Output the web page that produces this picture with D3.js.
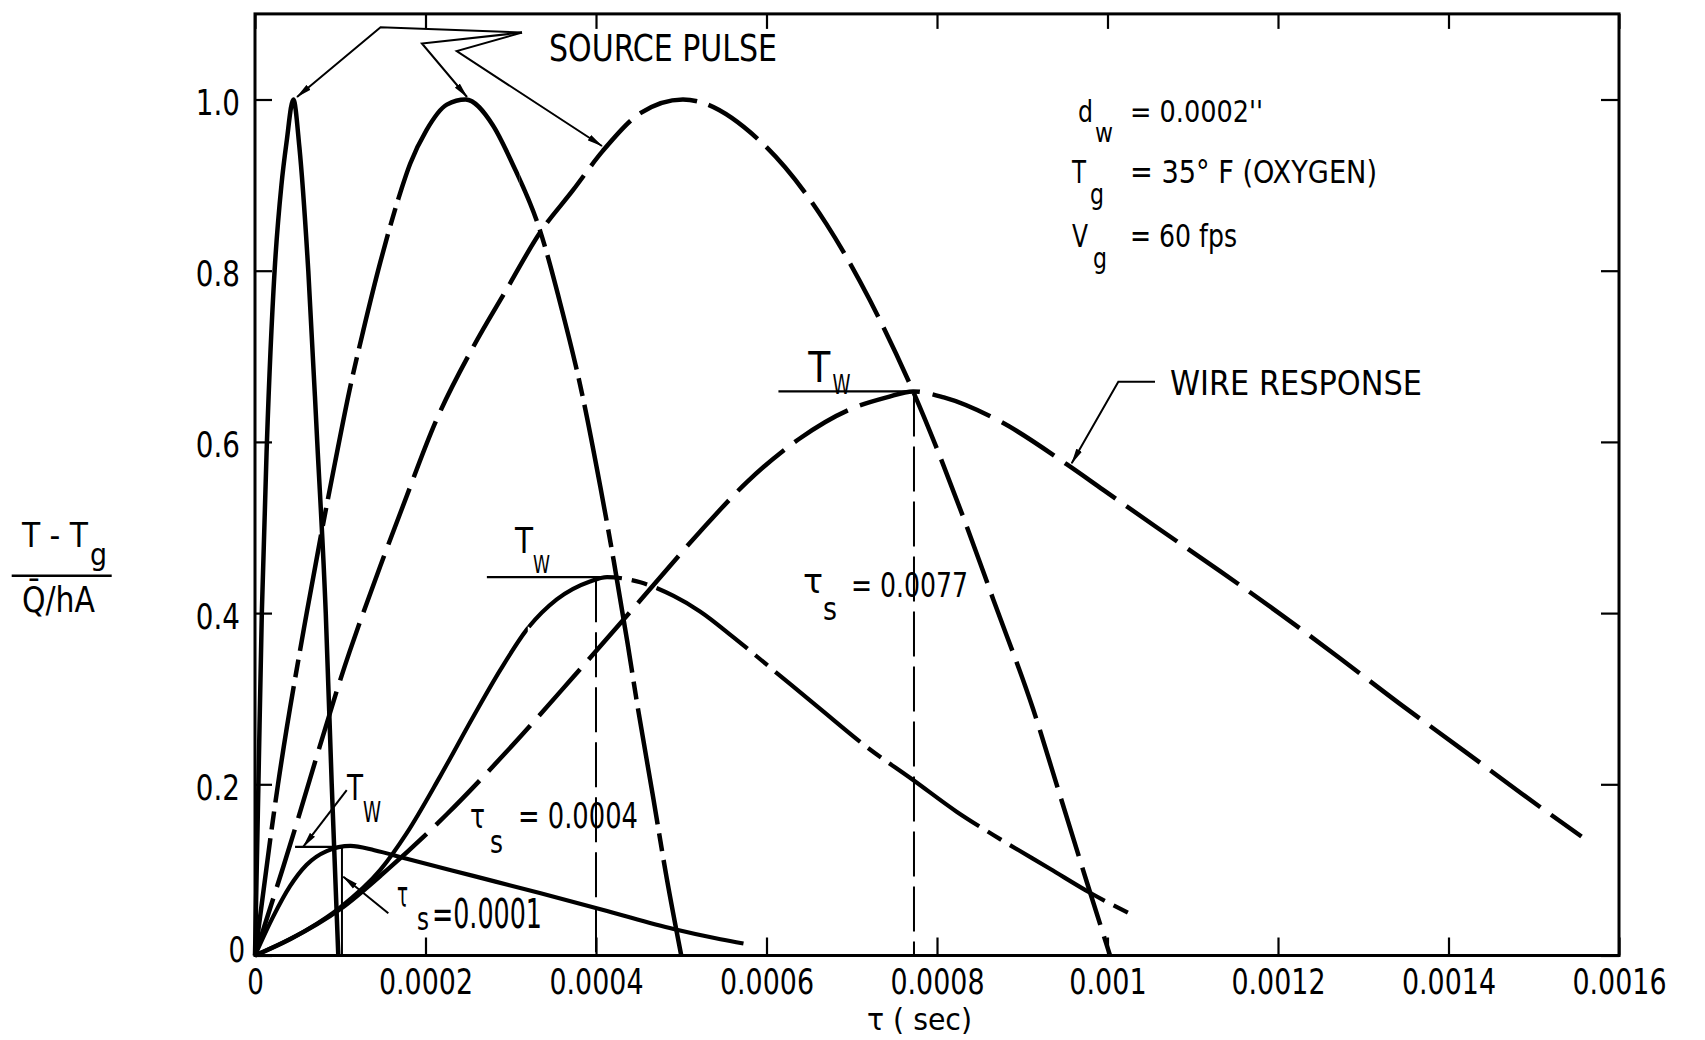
<!DOCTYPE html>
<html><head><meta charset="utf-8">
<script src="https://cdn.jsdelivr.net/npm/d3@7"></script>
<style>
body{margin:0;background:#fff}
svg{display:block}
text{font-family:"DejaVu Sans Condensed","DejaVu Sans",sans-serif;fill:#000}
</style>
</head><body>
<svg id="chart" width="1705" height="1040"></svg>
<script>
// ---------------- DATA ----------------
const xTicks = [0, 0.0002, 0.0004, 0.0006, 0.0008, 0.001, 0.0012, 0.0014, 0.0016];
const xTickLabels = ["0", "0.0002", "0.0004", "0.0006", "0.0008", "0.001", "0.0012", "0.0014", "0.0016"];
const yTicks = [0, 0.2, 0.4, 0.6, 0.8, 1.0];
const yTickLabels = ["0", "0.2", "0.4", "0.6", "0.8", "1.0"];

// source pulses (time in sec, normalized temperature)
const pulse1T = [0, 0.000004, 0.000008, 0.000014, 0.000023, 0.000031, 0.000037, 0.000045, 0.000052, 0.0000625, 0.000073, 0.000083, 0.00009, 0.0000977];
const pulse1V = [0, 0.2, 0.4, 0.6, 0.8, 0.9, 0.95, 1.0, 0.945, 0.8, 0.6, 0.4, 0.2, 0];
const pulse2T = [0, 0.000027, 0.0000606, 0.0000939, 0.000111, 0.000127, 0.000147, 0.000166, 0.000182, 0.000201, 0.000225, 0.000247, 0.000279, 0.000302, 0.000334, 0.000358, 0.000385, 0.000405, 0.000421, 0.000437, 0.000447, 0.000467, 0.000483, 0.0005];
const pulse2V = [0, 0.2, 0.4, 0.576, 0.661, 0.73, 0.81, 0.877, 0.925, 0.964, 0.994, 1.0, 0.97, 0.925, 0.848, 0.762, 0.65, 0.548, 0.46, 0.365, 0.302, 0.185, 0.09, 0];
const pulse3T = [0, 0.0000333, 0.000111, 0.000147, 0.000172, 0.000213, 0.000256, 0.000295, 0.000334, 0.000373, 0.000408, 0.000452, 0.000502, 0.000594, 0.00067, 0.000721, 0.000772, 0.000835, 0.000866, 0.000913, 0.000944, 0.000976, 0.001003];
const pulse3V = [0, 0.104, 0.355, 0.455, 0.521, 0.626, 0.711, 0.778, 0.844, 0.894, 0.94, 0.984, 1.0, 0.95, 0.855, 0.766, 0.659, 0.501, 0.416, 0.287, 0.188, 0.085, 0];

// wire responses
const resp1T = [0, 0.0000216, 0.0000411, 0.0000606, 0.0000841, 0.000112, 0.00014, 0.000178, 0.000256, 0.000334, 0.000413, 0.000491, 0.000546, 0.000573];
const resp1V = [0, 0.046, 0.081, 0.106, 0.122, 0.128, 0.123, 0.113, 0.093, 0.073, 0.052, 0.031, 0.019, 0.014];
const resp2T = [0, 0.000061, 0.0000997, 0.000147, 0.000178, 0.000217, 0.000256, 0.000288, 0.000319, 0.000354, 0.000393, 0.000413, 0.000452, 0.000491, 0.000522, 0.000561, 0.0006, 0.000663, 0.000717, 0.000772, 0.000823, 0.000874, 0.000933, 0.00098, 0.001032];
const resp2V = [0, 0.03, 0.056, 0.1, 0.143, 0.209, 0.279, 0.334, 0.381, 0.416, 0.437, 0.442, 0.436, 0.42, 0.402, 0.372, 0.34, 0.288, 0.244, 0.205, 0.168, 0.136, 0.101, 0.073, 0.046];
const resp3T = [0, 0.000041, 0.0000997, 0.000155, 0.000225, 0.000295, 0.000373, 0.000452, 0.000522, 0.000577, 0.000639, 0.000698, 0.000741, 0.000772, 0.000808, 0.000874, 0.000952, 0.000995, 0.001058, 0.001132, 0.001204, 0.001273, 0.001343, 0.001417, 0.001486, 0.001556];
const resp3V = [0, 0.019, 0.054, 0.1, 0.165, 0.238, 0.325, 0.415, 0.495, 0.553, 0.604, 0.638, 0.652, 0.659, 0.652, 0.624, 0.574, 0.544, 0.5, 0.449, 0.398, 0.347, 0.294, 0.24, 0.189, 0.139];

// peak markers (T_w): [t start, t end, value]
const peakMarks = [[0.000047, 0.0001, 0.127], [0.000272, 0.000422, 0.442], [0.000614, 0.000772, 0.659]];
// vertical drop lines: [t, value top, dashed]
const dropLines = [[0.000102, 0.127, false], [0.0004, 0.442, true], [0.000773, 0.659, true]];

// ---------------- LAYOUT ----------------
const W = 1705, H = 1040;
const x = d3.scaleLinear().domain([0, 0.0016]).range([255, 1619]);
const y = d3.scaleLinear().domain([0, 1.1]).range([955.5, 13.9]);
const svg = d3.select("#chart");

const defs = svg.append("defs");
defs.append("marker").attr("id", "arr").attr("markerUnits", "userSpaceOnUse")
  .attr("viewBox", "0 -4 16 8").attr("refX", 15).attr("refY", 0)
  .attr("markerWidth", 16).attr("markerHeight", 8).attr("orient", "auto")
  .append("path").attr("d", "M0,-3.2L16,0L0,3.2Z").attr("fill", "#000");

function fitText(sel, w) {
  if (w) sel.attr("textLength", w).attr("lengthAdjust", "spacingAndGlyphs");
  return sel;
}
function numWidth(s) {
  let w = 0;
  for (const c of s) w += (c === "." ? 11 : 16.6);
  return w;
}

// ---------------- FRAME & AXES ----------------
const gAx = svg.append("g");
const xb = gAx.append("g").attr("transform", `translate(0,${y(0)})`)
  .call(d3.axisBottom(x).tickValues(xTicks).tickSize(-18).tickPadding(14)
    .tickFormat((d, i) => xTickLabels[i]));
gAx.append("g").attr("transform", `translate(0,${y(1.1)})`)
  .call(d3.axisTop(x).tickValues(xTicks).tickSize(-15).tickFormat(""));
const yl = gAx.append("g").attr("transform", `translate(${x(0)},0)`)
  .call(d3.axisLeft(y).tickValues(yTicks).tickSize(-17).tickPadding(15)
    .tickFormat((d, i) => yTickLabels[i]));
gAx.append("g").attr("transform", `translate(${x(0.0016)},0)`)
  .call(d3.axisRight(y).tickValues(yTicks).tickSize(-18).tickFormat(""));
gAx.selectAll(".domain").remove();
gAx.selectAll(".tick line").attr("stroke", "#000").attr("stroke-width", 2.2);
gAx.selectAll(".tick text").attr("font-size", 35).attr("fill", "#000")
  .each(function () { const s = d3.select(this); fitText(s, numWidth(s.text())); });
xb.selectAll(".tick text").attr("dy", "0.71em");
yl.selectAll(".tick text").attr("dy", null).attr("y", 15);
yl.selectAll(".tick text").filter((d) => d === 0).attr("y", 6).attr("x", -10);

svg.append("rect").attr("x", x(0)).attr("y", y(1.1))
  .attr("width", x(0.0016) - x(0)).attr("height", y(0) - y(1.1))
  .attr("fill", "none").attr("stroke", "#000").attr("stroke-width", 3);

// ---------------- CURVES ----------------
const series = [
  { id: "p1", t: pulse1T, v: pulse1V, w: 4.5, ranges: [[0, 1, null]] },
  { id: "p2", t: pulse2T, v: pulse2V, w: 4.5, ranges: [[0, 0.00017, "118,9,18,9"], [0.00017, 0.00031, null], [0.00031, 1, "118,9,18,9"]] },
  { id: "p3", t: pulse3T, v: pulse3V, w: 4.5, ranges: [[0, 1, "60,12"]] },
  { id: "r1", t: resp1T, v: resp1V, w: 4.2, ranges: [[0, 1, null]] },
  { id: "r2", t: resp2T, v: resp2V, w: 4.2, ranges: [[0, 0.00032, null], [0.00032, 1, "110,10,16,10"]] },
  { id: "r3", t: resp3T, v: resp3V, w: 4.5, ranges: [[0, 0.00015, null], [0.00015, 1, "62,13"]] }
];
const line = d3.line().x(d => x(d[0])).y(d => y(d[1])).curve(d3.curveMonotoneX);
const gC = svg.append("g");
series.forEach(s => {
  const pts = s.t.map((t, i) => [t, s.v[i]]);
  const d = line(pts);
  s.ranges.forEach((r, k) => {
    const cid = `clip-${s.id}-${k}`;
    const x0 = k === 0 ? 0 : x(r[0]);
    const x1 = k === s.ranges.length - 1 ? W : x(r[1]);
    defs.append("clipPath").attr("id", cid).append("rect")
      .attr("x", x0).attr("y", 0).attr("width", x1 - x0).attr("height", H);
    gC.append("path").attr("d", d).attr("fill", "none").attr("stroke", "#000")
      .attr("stroke-width", s.w).attr("stroke-linejoin", "round")
      .attr("stroke-dasharray", r[2]).attr("clip-path", `url(#${cid})`);
  });
});

// peak marker lines and drop lines
const gM = svg.append("g").attr("stroke", "#000").attr("fill", "none");
peakMarks.forEach(p => {
  gM.append("line").attr("x1", x(p[0])).attr("x2", x(p[1])).attr("y1", y(p[2])).attr("y2", y(p[2]))
    .attr("stroke-width", 2.2);
});
dropLines.forEach(p => {
  gM.append("line").attr("x1", x(p[0])).attr("x2", x(p[0])).attr("y1", y(p[1])).attr("y2", y(0))
    .attr("stroke-width", 2).attr("stroke-dasharray", p[2] ? "45,10" : null);
});

// ---------------- ANNOTATIONS (data coordinates) ----------------
const leaders = [
  [[0.0003132, 1.0782], [0.0001473, 1.0845], [0.0000493, 1.003]],
  [[0.0003132, 1.0782], [0.0001958, 1.0654], [0.0002487, 1.0029]],
  [[0.0003132, 1.0782], [0.0002366, 1.0565], [0.000407, 0.9457]],
  [[0.0010557, 0.6703], [0.0010127, 0.6703], [0.000958, 0.575]],
  [[0.0001076, 0.1933], [0.0000567, 0.1271]],
  [[0.0001564, 0.0493], [0.0001036, 0.0921]]
];
const lp = d3.line().x(d => x(d[0])).y(d => y(d[1]));
leaders.forEach(l => {
  gM.append("path").attr("d", lp(l)).attr("stroke-width", 2).attr("marker-end", "url(#arr)");
});

const gT = svg.append("g");
function label(s, t, v, w, size) {
  return fitText(gT.append("text").attr("x", x(t)).attr("y", y(v)).attr("font-size", size).text(s), w);
}
label("SOURCE PULSE", 0.0003449, 1.045, 228, 37);
label("WIRE RESPONSE", 0.0010733, 0.6548, 252, 34);
// conditions block
label("d", 0.0009654, 0.9741, 15, 31);
label("w", 0.0009853, 0.9504, 18, 27);
label("= 0.0002''", 0.0010264, 0.9741, 133, 31);
label("T", 0.0009584, 0.9025, 14, 32);
label("g", 0.0009795, 0.8779, 14, 29);
label("= 35° F (OXYGEN)", 0.0010264, 0.9025, 247, 32);
label("V", 0.0009584, 0.8277, 16, 32);
label("g", 0.000983, 0.8032, 14, 29);
label("= 60 fps", 0.0010264, 0.8277, 107, 32);
// T_w labels
label("T", 0.000649, 0.67, 22, 42);
label("W", 0.0006773, 0.656, 18, 27);
label("T", 0.000305, 0.4702, 18, 36);
label("W", 0.0003262, 0.4469, 17, 25);
label("T", 0.0001079, 0.1817, 16, 36);
label("W", 0.0001267, 0.1554, 18, 28);
// tau_s labels
label("τ", 0.0006428, 0.4235, 20, 34);
label("s", 0.0006663, 0.3919, 14, 32);
label("= 0.0077", 0.0006991, 0.4188, 117, 34);
label("τ", 0.0002522, 0.1489, 15, 34);
label("s", 0.0002757, 0.1197, 13, 32);
label("= 0.0004", 0.0003085, 0.1489, 120, 36);
label("τ", 0.0001666, 0.0567, 11, 36);
label("s", 0.00019, 0.0298, 12, 32);
label("=0.0001", 0.0002076, 0.0321, 110, 41);

// axis titles
fitText(svg.append("text").attr("x", 867).attr("y", 1030).attr("font-size", 31).text("τ ( sec)"), 105);
fitText(svg.append("text").attr("x", 22).attr("y", 546.7).attr("font-size", 34).text("T - T"), 66);
fitText(svg.append("text").attr("x", 90).attr("y", 565).attr("font-size", 30).text("g"), 17);
svg.append("line").attr("x1", 11.7).attr("x2", 111.7).attr("y1", 575.7).attr("y2", 575.7)
  .attr("stroke", "#000").attr("stroke-width", 2.5);
fitText(svg.append("text").attr("x", 22).attr("y", 611.7).attr("font-size", 35).text("Q̄/hA"), 73);
</script>
</body></html>
